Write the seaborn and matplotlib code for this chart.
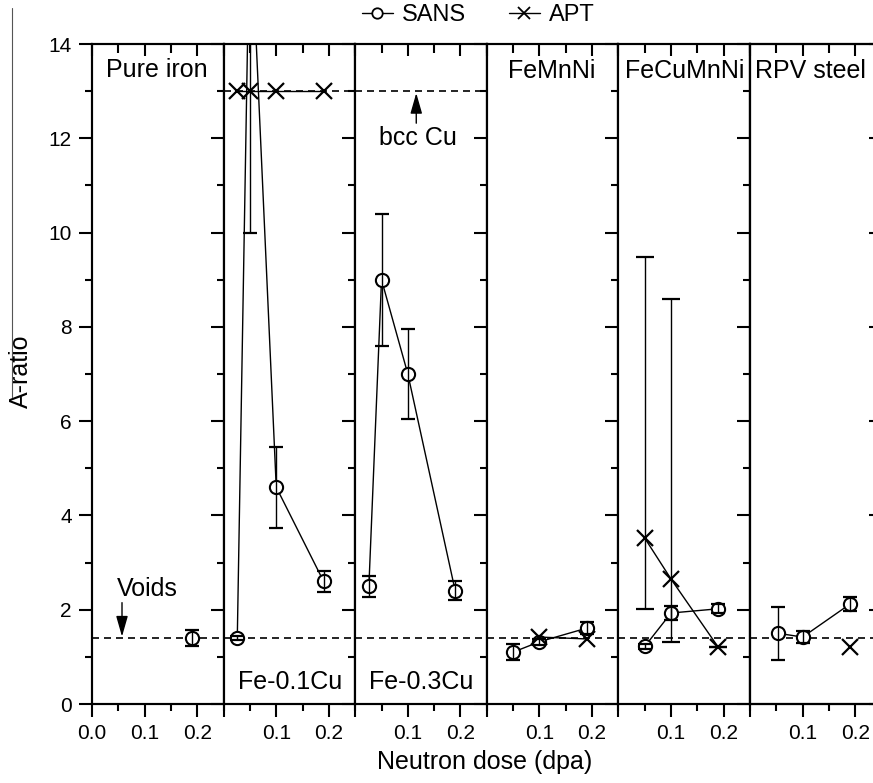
import numpy as np
import pandas as pd
import matplotlib
matplotlib.use("Agg")
import matplotlib.pyplot as plt
from matplotlib.lines import Line2D
import seaborn as sns

# panel names
PANELS = ["Pure iron", "Fe-0.1Cu", "Fe-0.3Cu", "FeMnNi", "FeCuMnNi", "RPV steel"]

# SANS data per panel: dose (dpa), A-ratio, symmetric error
sans_dose = [
    [0.19],
    [0.026, 0.05, 0.1, 0.19],
    [0.026, 0.05, 0.1, 0.19],
    [0.05, 0.1, 0.19],
    [0.05, 0.1, 0.19],
    [0.053, 0.1, 0.19],
]
sans_ratio = [
    [1.4],
    [1.4, 17.0, 4.6, 2.6],
    [2.5, 9.0, 7.0, 2.4],
    [1.1, 1.32, 1.61],
    [1.22, 1.93, 2.02],
    [1.5, 1.42, 2.12],
]
sans_err = [
    [0.16],
    [0.05, 7.0, 0.86, 0.22],
    [0.22, 1.4, 0.96, 0.2],
    [0.17, 0.06, 0.12],
    [0.05, 0.15, 0.1],
    [0.56, 0.12, 0.15],
]

# APT data per panel: dose, A-ratio, lower / upper error
apt_dose = [
    [],
    [0.026, 0.05, 0.1, 0.19],
    [],
    [0.1, 0.19],
    [0.05, 0.1, 0.19],
    [0.19],
]
apt_ratio = [
    [],
    [13.0, 13.0, 13.0, 13.0],
    [],
    [1.42, 1.38],
    [3.52, 2.65, 1.2],
    [1.2],
]
apt_err_lo = [[], [0, 0, 0, 0], [], [0, 0], [1.51, 1.33, 0], [0]]
apt_err_hi = [[], [0, 0, 0, 0], [], [0, 0], [5.96, 5.95, 0], [0]]

VOIDS_LEVEL = 1.4
BCC_CU_LEVEL = 13.0

sns.set_theme(style="ticks")
plt.rcParams["font.family"] = ["Liberation Sans", "DejaVu Sans"]
plt.rcParams.update({
    "axes.linewidth": 1.5,
    "axes.edgecolor": "black",
    "text.color": "black",
    "axes.labelcolor": "black",
    "xtick.color": "black",
    "ytick.color": "black",
})

W, H = 873, 783
fig = plt.figure(figsize=(W / 100, H / 100), dpi=100)

x0_px = 92
pw_px = 131.6
y_bottom_px = 704
y_top_px = 44

dash = (0, (4.2, 3))
arrow_kw = dict(arrowstyle="-|>,head_length=0.7,head_width=0.2", color="black", lw=1.0,
                mutation_scale=18, shrinkA=0, shrinkB=0)

for i, name in enumerate(PANELS):
    left = (x0_px + i * pw_px) / W
    ax = fig.add_axes([left, (H - y_bottom_px) / H, pw_px / W, (y_bottom_px - y_top_px) / H])
    ax.set_facecolor("white")
    ax.set_xlim(0, 0.25)
    ax.set_ylim(0, 14)

    # reference lines
    ax.axhline(VOIDS_LEVEL, color="black", lw=1.2, ls=dash, zorder=1.5)
    if name in ("Fe-0.1Cu", "Fe-0.3Cu"):
        ax.axhline(BCC_CU_LEVEL, color="black", lw=1.2, ls=dash, zorder=1.5)

    # SANS
    df_s = pd.DataFrame({"dose": sans_dose[i], "ratio": sans_ratio[i]})
    sns.lineplot(data=df_s, x="dose", y="ratio", ax=ax, estimator=None, sort=False,
                 color="black", lw=1.0, marker="o", markersize=9.5,
                 markerfacecolor="white", markeredgecolor="black", markeredgewidth=1.5,
                 zorder=3)
    ax.errorbar(sans_dose[i], sans_ratio[i], yerr=sans_err[i], fmt="none",
                ecolor="black", elinewidth=1.0, capsize=5, capthick=1.6, zorder=4)

    # APT
    if apt_dose[i]:
        df_a = pd.DataFrame({"dose": apt_dose[i], "ratio": apt_ratio[i]})
        sns.lineplot(data=df_a, x="dose", y="ratio", ax=ax, estimator=None, sort=False,
                     color="black", lw=1.0, marker="x", markersize=11,
                     markeredgecolor="black", markeredgewidth=1.6, zorder=3)
        if any(apt_err_hi[i]):
            ax.errorbar(apt_dose[i], apt_ratio[i], yerr=[apt_err_lo[i], apt_err_hi[i]],
                        fmt="none", ecolor="black", elinewidth=1.0, capsize=6.5,
                        capthick=1.6, zorder=4)

    ax.set_xlabel("")
    ax.set_ylabel("")

    # ticks
    ax.set_xticks([0.0, 0.1, 0.2])
    ax.set_xticks([0.05, 0.15, 0.25], minor=True)
    ax.set_yticks(np.arange(0, 15, 2))
    ax.set_yticks(np.arange(1, 14, 2), minor=True)
    ax.tick_params(axis="x", which="major", direction="out", length=9.5, width=1.5,
                   labelsize=15, pad=5)
    ax.tick_params(axis="x", which="minor", direction="out", length=5, width=1.5)
    ax.tick_params(axis="y", which="major", direction="out", length=9.5, width=1.5,
                   labelsize=15, pad=5)
    ax.tick_params(axis="y", which="minor", direction="out", length=5, width=1.5)
    if i == 0:
        ax.set_xticklabels(["0.0", "0.1", "0.2"])
    else:
        ax.set_xticklabels(["", "0.1", "0.2"])
        ax.tick_params(axis="y", labelleft=False)

    # mirrored ticks: top pointing in
    top = ax.twiny()
    top.set_xlim(0, 0.25)
    top.set_xticks([0.0, 0.1, 0.2])
    top.set_xticks([0.05, 0.15, 0.25], minor=True)
    top.tick_params(axis="x", which="major", direction="in", length=8.5, width=1.5, labeltop=False)
    top.tick_params(axis="x", which="minor", direction="in", length=6.5, width=1.5)
    for sp in top.spines.values():
        sp.set_linewidth(1.5)

    if i == len(PANELS) - 1:
        right = ax.twinx()
        right.set_ylim(0, 14)
        right.set_yticks(np.arange(0, 15, 2))
        right.set_yticks(np.arange(1, 14, 2), minor=True)
        right.tick_params(axis="y", which="major", direction="in", length=9.5, width=1.5,
                          labelright=False)
        right.tick_params(axis="y", which="minor", direction="in", length=5, width=1.5)

    # panel labels
    if name == "Pure iron":
        ax.text(0.027, 13.45, name, fontsize=18, va="center", ha="left")
        ax.text(0.048, 2.44, "Voids", fontsize=18, va="center", ha="left")
        ax.annotate("", xy=(0.057, 1.43), xytext=(0.057, 2.15), arrowprops=arrow_kw)
    elif name in ("Fe-0.1Cu", "Fe-0.3Cu"):
        ax.text(0.027, 0.47, name, fontsize=18, va="center", ha="left")
        if name == "Fe-0.3Cu":
            ax.text(0.046, 12.0, "bcc Cu", fontsize=18, va="center", ha="left")
            ax.annotate("", xy=(0.116, 12.96), xytext=(0.116, 12.32), arrowprops=arrow_kw)
    elif name == "FeMnNi":
        ax.text(0.04, 13.43, name, fontsize=18, va="center", ha="left")
    elif name == "FeCuMnNi":
        ax.text(0.013, 13.43, name, fontsize=18, va="center", ha="left")
    else:
        ax.text(0.01, 13.43, name, fontsize=18, va="center", ha="left")

# legend at the top
handles = [
    Line2D([], [], color="black", lw=1.0, marker="o", markersize=7.5, markerfacecolor="white",
           markeredgecolor="black", markeredgewidth=1.3),
    Line2D([], [], color="black", lw=1.0, marker="x", markersize=8.5, markeredgecolor="black",
           markeredgewidth=1.3),
]
fig.legend(handles, ["SANS", "APT"], loc="center", bbox_to_anchor=(0.548, 0.981), ncol=2,
           frameon=False, fontsize=17, handlelength=1.3, handletextpad=0.4, columnspacing=1.8)

fig.text(21 / W, 1 - 371 / H, "A-ratio", rotation=90, fontsize=18, ha="center", va="center")
fig.text(485 / W, 1 - 762 / H, "Neutron dose (dpa)", fontsize=18, ha="center", va="center")
fig.add_artist(Line2D([12 / W, 12 / W], [1 - 8 / H, 1 - 397 / H], transform=fig.transFigure,
                      color="#555555", lw=0.8))

fig.savefig("out.png", dpi=100)
